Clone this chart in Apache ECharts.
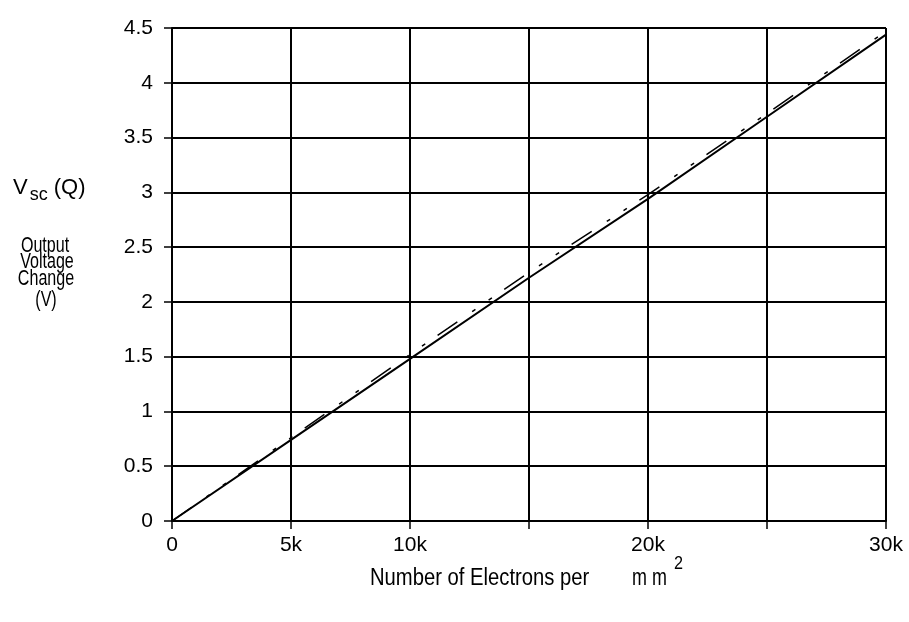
<!DOCTYPE html>
<html>
<head>
<meta charset="utf-8">
<script src="https://cdn.jsdelivr.net/npm/echarts@6/dist/echarts.min.js"></script>
<style>
  html, body { margin: 0; padding: 0; background: #fff; }
  #chart { width: 909px; height: 622px; }
</style>
</head>
<body>
<div id="chart"></div>
<script>
// Electron count per mm^2 (x) against output voltage change (y)
const electrons = [0, 5000, 10000, 15000, 20000, 25000, 30000];
const measured = [0, 0.74, 1.48, 2.22, 2.94, 3.69, 4.44];
const ideal = [0, 0.76, 1.52, 2.27, 2.98, 3.72, 4.47];

// Axis tick labels
const xTickValues = [0, 5000, 10000, 15000, 20000, 25000, 30000];
const xTickLabels = ['0', '5k', '10k', '', '20k', '', '30k'];
const yTickValues = [0, 0.5, 1, 1.5, 2, 2.5, 3, 3.5, 4, 4.5];
const yTickLabels = ['0', '0.5', '1', '1.5', '2', '2.5', '3', '3.5', '4', '4.5'];

const FONT = "'Liberation Sans', Arial, Helvetica, sans-serif";
const FS = 21;

const chart = echarts.init(document.getElementById('chart'), null, { renderer: 'canvas' });

function pairs(xs, ys) { return xs.map((x, i) => [x, ys[i]]); }
function lookup(values, labels, v) {
  const i = values.findIndex(t => Math.abs(t - v) < 1e-9);
  return i < 0 ? '' : labels[i];
}
// condensed caption text (scaled horizontally around its anchor)
function caption(text, x, y, size, sx, align) {
  return {
    type: 'text', x: x, y: y, scaleX: sx, scaleY: 1,
    style: { text: text, fontFamily: FONT, fontSize: size, fill: '#000',
             align: align || 'left', verticalAlign: 'top' }
  };
}

chart.setOption({
  animation: false,
  backgroundColor: '#ffffff',
  grid: { left: 172, right: 23, top: 28, bottom: 101, containLabel: false },
  xAxis: {
    type: 'value', min: 0, max: 30000, interval: 5000,
    axisLine: { show: true, lineStyle: { color: '#000', width: 2 } },
    axisTick: { show: true, inside: false, length: 8, lineStyle: { color: '#000', width: 1.5 } },
    splitLine: { show: true, lineStyle: { color: '#000', width: 2 } },
    axisLabel: {
      margin: 14, color: '#000', fontFamily: FONT, fontSize: FS,
      formatter: v => lookup(xTickValues, xTickLabels, v)
    }
  },
  yAxis: {
    type: 'value', min: 0, max: 4.5, interval: 0.5,
    axisLine: { show: true, lineStyle: { color: '#000', width: 2 } },
    axisTick: { show: true, inside: false, length: 8, lineStyle: { color: '#000', width: 1.5 } },
    splitLine: { show: true, lineStyle: { color: '#000', width: 2 } },
    axisLabel: {
      margin: 19, color: '#000', fontFamily: FONT, fontSize: FS,
      padding: [0, 0, 6, 0],
      formatter: v => lookup(yTickValues, yTickLabels, v)
    }
  },
  series: [
    {
      name: 'ideal', type: 'line', data: pairs(electrons, ideal),
      showSymbol: false, silent: true, z: 3,
      lineStyle: { color: '#000', width: 1.5, type: [24, 18, 4, 16, 4, 15] }
    },
    {
      name: 'measured', type: 'line', data: pairs(electrons, measured),
      showSymbol: false, silent: true, z: 4,
      lineStyle: { color: '#000', width: 2, type: 'solid' }
    }
  ],
  graphic: [
    {
      type: 'text', left: 13, top: 177,
      style: {
        text: '{v|V}{s|sc}{q| (Q)}',
        rich: {
          v: { fontFamily: FONT, fontSize: 22, fill: '#000' },
          s: { fontFamily: FONT, fontSize: 18, fill: '#000', padding: [14, 0, 0, 2] },
          q: { fontFamily: FONT, fontSize: 22, fill: '#000' }
        }
      }
    },
    caption('Output', 45, 235, 22, 0.73, 'center'),
    caption('Voltage', 47, 251, 22, 0.73, 'center'),
    caption('Change', 46, 268, 22, 0.73, 'center'),
    caption('(V)', 46, 289, 22, 0.73, 'center'),
    caption('Number of Electrons per', 370, 567, 23, 0.88),
    caption('m m', 632, 567, 23, 0.78),
    caption('2', 674, 555, 18, 0.9)
  ]
});
</script>
</body>
</html>
